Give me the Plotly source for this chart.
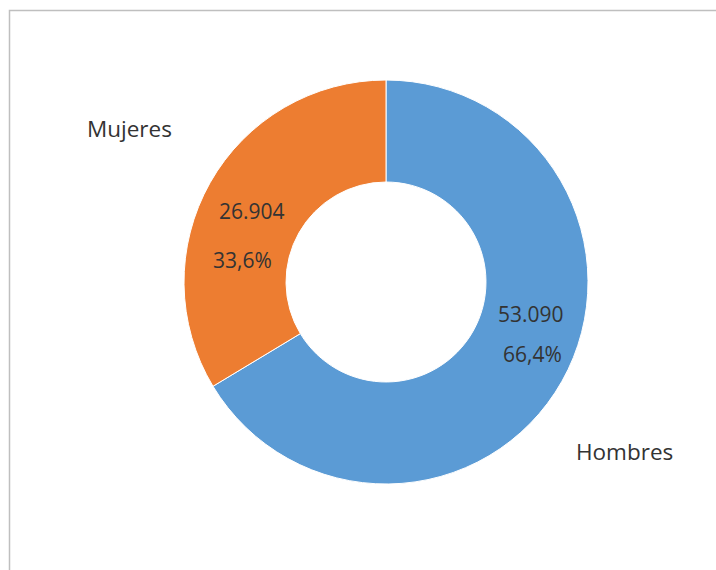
import plotly.graph_objects as go

labels = ["Hombres", "Mujeres"]
values = [53090, 26904]
colors = ["#5B9BD5", "#ED7D31"]

W, H = 716, 570
cx, cy, r = 386, 282, 202
FONT = "Open Sans, Lato, sans-serif"
TXT = "#333333"


def fmt_int(v):
    return f"{v:,.0f}".replace(",", ".")


def fmt_pct(p):
    return f"{p:.1f}%".replace(".", ",")


total = sum(values)

fig = go.Figure(go.Pie(
    labels=labels,
    values=values,
    hole=0.495,
    sort=False,
    direction="clockwise",
    rotation=0,
    marker=dict(colors=colors, line=dict(color="white", width=1)),
    textinfo="none",
    showlegend=False,
    hoverinfo="label+value+percent",
    domain=dict(x=[(cx - r) / W, (cx + r) / W], y=[(H - cy - r) / H, (H - cy + r) / H]),
))

# category labels outside the ring
label_pos = {"Mujeres": (129, 128), "Hombres": (624, 451)}
# value / percent labels inside the ring
value_pos = {"Mujeres": ((252, 211), (242, 260)), "Hombres": ((531, 314), (532, 354))}

for lab, val in zip(labels, values):
    x, y = label_pos[lab]
    fig.add_annotation(
        x=x / W, y=1 - y / H, xref="paper", yref="paper",
        text=lab, showarrow=False,
        font=dict(family=FONT, size=22.5, color=TXT),
        xanchor="center", yanchor="middle",
    )
    (vx, vy), (px, py) = value_pos[lab]
    fig.add_annotation(
        x=vx / W, y=1 - vy / H, xref="paper", yref="paper",
        text=fmt_int(val), showarrow=False,
        font=dict(family=FONT, size=21, color=TXT),
        xanchor="center", yanchor="middle",
    )
    fig.add_annotation(
        x=px / W, y=1 - py / H, xref="paper", yref="paper",
        text=fmt_pct(100 * val / total), showarrow=False,
        font=dict(family=FONT, size=21, color=TXT),
        xanchor="center", yanchor="middle",
    )

fig.add_shape(
    type="rect", xref="paper", yref="paper",
    x0=9.5 / W, x1=1.05, y0=-0.05, y1=1 - 10.5 / H,
    line=dict(color="#BFBFBF", width=1.5), fillcolor="rgba(0,0,0,0)",
)

fig.update_layout(
    width=W, height=H,
    margin=dict(l=0, r=0, t=0, b=0),
    paper_bgcolor="white", plot_bgcolor="white",
    separators=",.",
)

fig.write_html(
    "out.html",
    config={"displayModeBar": False},
    post_script="document.body.style.margin='0';document.body.style.overflow='hidden';",
)
